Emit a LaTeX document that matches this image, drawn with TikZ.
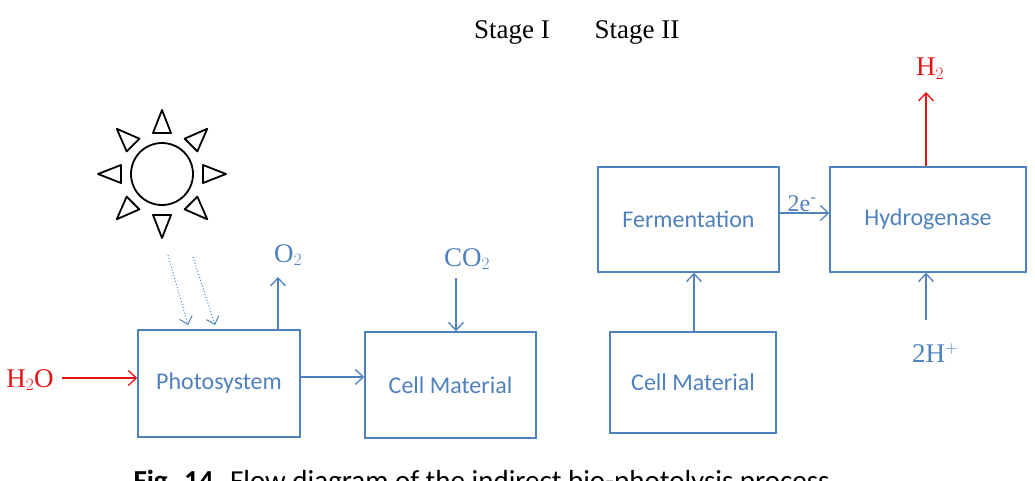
\documentclass[tikz,border=0pt]{standalone}
\usepackage{fontspec}
\setmainfont{Liberation Serif}
\newfontfamily\carfont{Carlito}
\usetikzlibrary{arrows.meta}
\definecolor{bl}{RGB}{79,129,189}
\definecolor{rd}{RGB}{230,20,20}
\begin{document}
\begin{tikzpicture}[x=1pt,y=-1pt,
 box/.style={draw=bl,line width=1.5pt,text=bl,font=\carfont\fontsize{24}{28}\selectfont},
 arr/.style={draw=bl,line width=1.3pt,-{Straight Barb[length=8pt,width=15pt]}},
 rarr/.style={draw=rd,line width=1.3pt,-{Straight Barb[length=8pt,width=15pt]}},
 lab/.style={text=bl,font=\fontsize{27}{30}\selectfont},
 rlab/.style={text=rd,font=\fontsize{27}{30}\selectfont}]
\clip (0,0) rectangle (1035,480);
\useasboundingbox (0,0) rectangle (1035,480);
\node[box,minimum width=162pt,minimum height=107pt] (ps) at (219,383.5) {Photosystem};
\node[box,minimum width=171pt,minimum height=106pt] (cm1) at (450.5,385) {Cell Material};
\node[box,minimum width=166pt,minimum height=101pt] (cm2) at (693,382.5) {Cell Material};
\node[box,minimum width=181pt,minimum height=105pt] (fe) at (688.5,219.5) {Fermentation};
\node[box,minimum width=196pt,minimum height=105pt] (hy) at (928,219.5) {Hydrogenase};
\node[font=\fontsize{27}{30}\selectfont] (s1) at (512,32) {Stage I};
\node[font=\fontsize{27}{30}\selectfont] (s2) at (637,32) {Stage II};
\node[rlab] (h2o) at (30,380) {H$_2$O};
\node[lab] (o2) at (288,255) {O$_2$};
\node[lab] (co2) at (467,259) {CO$_2$};
\node[rlab] (h2) at (930,69) {H$_2$};
\node[lab] (hp) at (935,353) {2H$^{+}$};
\node[lab,font=\fontsize{24}{26}\selectfont] (e) at (802,204) {2e\textsuperscript{-}};
\draw[rarr] (62,378) coordinate (a1) -- (ps.west |- a1);
\draw[arr] (ps.east |- 0,377) -- (cm1.west |- 0,377);
\draw[arr] (ps.north -| 278,0) -- (278,277) coordinate (o2t);
\draw[arr] (456,278) coordinate (co2s) -- (cm1.north -| 456,0);
\draw[arr] (cm2.north -| 694,0) -- (fe.south -| 694,0);
\draw[arr] (fe.east |- 0,213) -- (hy.west |- 0,213);
\draw[rarr] (hy.north -| 926,0) -- (926,92) coordinate (h2t);
\draw[arr] (926,320) coordinate (hps) -- (hy.south -| 926,0);
\draw[bl,line width=1pt,dotted,-{Straight Barb[length=7pt,width=13pt]}] (168,255) coordinate (d1) -- (188,325) coordinate (d2);
\draw[bl,line width=1pt,dotted,-{Straight Barb[length=7pt,width=13pt]}] (193,257) coordinate (d3) -- (215,325) coordinate (d4);
\begin{scope}[shift={(162,174)},line width=1.8pt]
\draw (0,0) circle (31);
\foreach \a in {0,45,...,315}{
 \draw[rotate=\a,line join=round] (64,0) -- (41,-9) -- (41,9) -- cycle;}
\end{scope}
\node[anchor=base west,font=\carfont\fontsize{29}{32}\selectfont] (cap) at (130,490) {\textbf{Fig. 14.} Flow diagram of the indirect bio-photolysis process};
\end{tikzpicture}
\end{document}
